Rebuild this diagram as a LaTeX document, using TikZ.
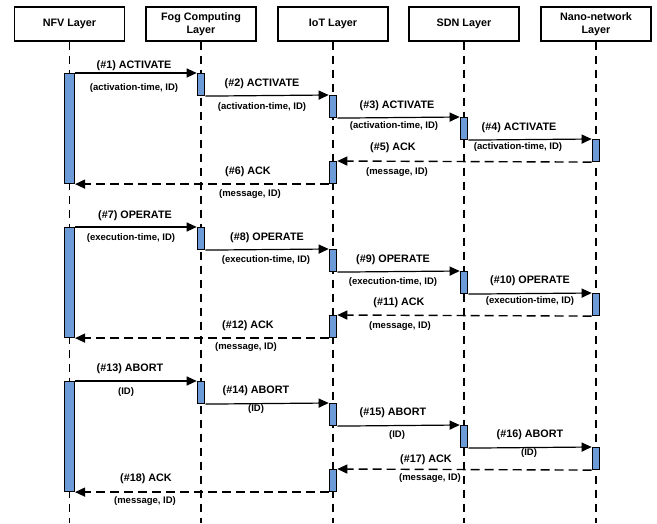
\documentclass[tikz,border=0pt]{standalone}
\usepackage{fontspec}
\setmainfont{Liberation Sans}
\usetikzlibrary{arrows.meta}
\definecolor{barblue}{RGB}{108,155,216}
\begin{document}
\begin{tikzpicture}[x=1pt,y=-1pt,
 hdr/.style={draw=black,line width=1.3pt,minimum width=110pt,minimum height=34pt,inner sep=0pt,align=center,fill=white,font=\bfseries\fontsize{10.8}{12.5}\selectfont},
 life/.style={line width=1.3pt,dash pattern=on 8pt off 6pt},
 actbar/.style={draw=black,fill=barblue,line width=1.1pt,minimum width=7.5pt,inner sep=0pt,anchor=north},
 wbar/.style={actbar,minimum width=10pt},
 msg/.style={line width=1.2pt,-{Triangle[length=10pt,width=9pt]}},
 ack/.style={msg,line width=1.4pt,dash pattern=on 9pt off 5pt},
 lbl/.style={font=\bfseries\fontsize{10.8}{12}\selectfont,inner sep=0pt},
 sub/.style={font=\bfseries\fontsize{9.5}{11}\selectfont,inner sep=0pt}]
\useasboundingbox (0,0) rectangle (657,523);
% headers
\node[hdr] (nfv) at (69.5,24) {NFV Layer};
\node[hdr] (fog) at (201,24) {Fog Computing\\Layer};
\node[hdr] (iot) at (333,24) {IoT Layer};
\node[hdr] (sdn) at (464,24) {SDN Layer};
\node[hdr] (nano) at (596,24) {Nano-network\\Layer};
% lifelines
\foreach \n in {nfv,fog,iot,sdn,nano}{
  \coordinate (\n end) at (\n.south |- 0,523);
  \draw[life] (\n.south) -- (\n end);
}
% activation bars
\foreach \g/\y in {1/73,2/227,3/381}{
  \node[wbar,minimum height=110pt] (A\g) at (69.5,\y) {};
  \node[actbar,minimum height=22pt] (F\g) at (201,\y) {};
  \node[actbar,minimum height=22pt] (I\g) at (333,\y+22) {};
  \node[actbar,minimum height=22pt] (S\g) at (464,\y+44) {};
  \node[actbar,minimum height=22pt] (N\g) at (596,\y+66) {};
  \node[actbar,minimum height=22pt] (J\g) at (333,\y+88) {};
  \draw[msg] (A\g.north east) -- (F\g.north west);
  \draw[msg] (F\g.south east) -- (I\g.north west);
  \draw[msg] (I\g.south east) -- (S\g.north west);
  \draw[msg] (S\g.south east) -- (N\g.north west);
  \draw[ack] (N\g.south west) -- (J\g.north east);
  \draw[ack] (J\g.south west) -- (A\g.south east);
}
% group 1 labels
\node[lbl] (l1) at (134,66) {(\#1) ACTIVATE};
\node[sub] (s1) at (134,88) {(activation-time, ID)};
\node[lbl] (l2) at (262,84) {(\#2) ACTIVATE};
\node[sub] (s2) at (262,107) {(activation-time, ID)};
\node[lbl] (l3) at (397,106) {(\#3) ACTIVATE};
\node[sub] (s3) at (394,126) {(activation-time, ID)};
\node[lbl] (l4) at (519,128) {(\#4) ACTIVATE};
\node[sub] (s4) at (518,147) {(activation-time, ID)};
\node[lbl] (l5) at (393,148) {(\#5) ACK};
\node[sub] (s5) at (397,172) {(message, ID)};
\node[lbl] (l6) at (248,172) {(\#6) ACK};
\node[sub] (s6) at (250,194) {(message, ID)};
% group 2 labels
\node[lbl] (l7) at (135,216) {(\#7) OPERATE};
\node[sub] (s7) at (131,238) {(execution-time, ID)};
\node[lbl] (l8) at (267,238) {(\#8) OPERATE};
\node[sub] (s8) at (266,260) {(execution-time, ID)};
\node[lbl] (l9) at (393,260) {(\#9) OPERATE};
\node[sub] (s9) at (393,282) {(execution-time, ID)};
\node[lbl] (l10) at (530,281) {(\#10) OPERATE};
\node[sub] (s10) at (530,301) {(execution-time, ID)};
\node[lbl] (l11) at (399,303) {(\#11) ACK};
\node[sub] (s11) at (400,326) {(message, ID)};
\node[lbl] (l12) at (248,326) {(\#12) ACK};
\node[sub] (s12) at (246,347) {(message, ID)};
% group 3 labels
\node[lbl] (l13) at (130,369) {(\#13) ABORT};
\node[sub] (s13) at (126,392) {(ID)};
\node[lbl] (l14) at (256,391) {(\#14) ABORT};
\node[sub] (s14) at (256,409) {(ID)};
\node[lbl] (l15) at (393,413) {(\#15) ABORT};
\node[sub] (s15) at (397,435) {(ID)};
\node[lbl] (l16) at (530,435) {(\#16) ABORT};
\node[sub] (s16) at (529,453) {(ID)};
\node[lbl] (l17) at (426,460) {(\#17) ACK};
\node[sub] (s17) at (430,478) {(message, ID)};
\node[lbl] (l18) at (146,479) {(\#18) ACK};
\node[sub] (s18) at (145,501) {(message, ID)};
\end{tikzpicture}
\end{document}
